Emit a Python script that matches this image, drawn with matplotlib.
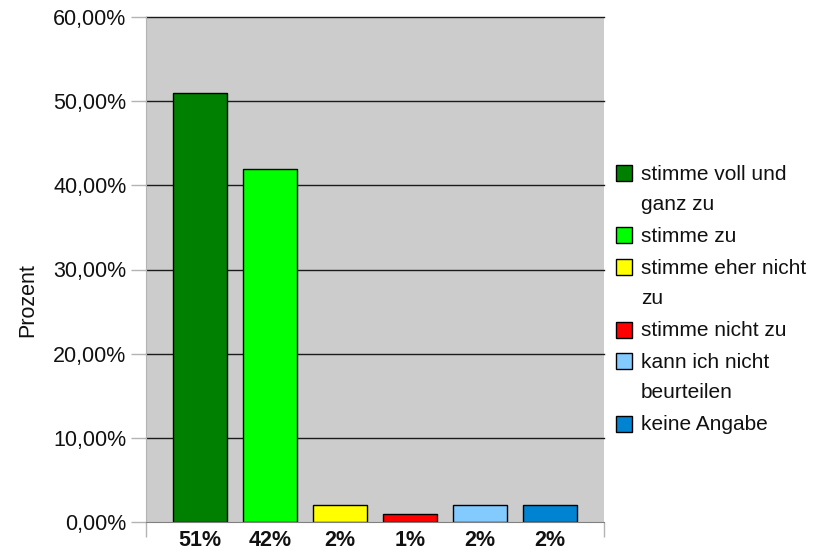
import matplotlib
matplotlib.use("Agg")
import matplotlib.pyplot as plt
from matplotlib.patches import Rectangle

plt.rcParams['font.family'] = ['Liberation Sans', 'DejaVu Sans']

# data
categories = ["stimme voll und\nganz zu", "stimme zu", "stimme eher nicht\nzu",
              "stimme nicht zu", "kann ich nicht\nbeurteilen", "keine Angabe"]
werte = [51, 42, 2, 1, 2, 2]
tick_labels = ["51%", "42%", "2%", "1%", "2%", "2%"]
farben = ["#008000", "#00ff00", "#ffff00", "#ff0000", "#83caff", "#0084d1"]
y_ticks = [0, 10, 20, 30, 40, 50, 60]

W, H = 814, 554
fig = plt.figure(figsize=(W / 100, H / 100), dpi=100)
ax = fig.add_axes([146 / W, 1 - 522 / H, (604 - 146) / W, (522 - 17) / H])
ax.set_facecolor("#cccccc")

x = list(range(len(werte)))
ax.bar(x, werte, width=0.77, color=farben, edgecolor="black", linewidth=1, zorder=3)

ax.set_xlim(-0.77, len(werte) - 1 + 0.77)
ax.set_ylim(0, 60)

# y axis
ax.set_yticks(y_ticks)
ax.set_yticklabels(["%d,00%%" % v for v in y_ticks], fontsize=15.5, color="#111111")
ax.tick_params(axis="y", length=11, width=1, color="#b3b3b3", pad=3)
ax.set_ylabel("Prozent", fontsize=15.5, color="#111111")
ax.yaxis.set_label_coords(-0.236, 0.44)

# grid
ax.grid(axis="y", color="#1a1a1a", linewidth=1, zorder=1)
ax.set_axisbelow(True)
ax.yaxis.get_gridlines()[0].set_visible(False)
for gl in ax.yaxis.get_gridlines():
    gl.set_clip_on(False)

# x axis
ax.set_xticks(x)
ax.set_xticklabels(tick_labels, fontsize=15.5, fontweight="bold", color="#111111")
ax.tick_params(axis="x", length=0, pad=6)
ax.set_xticks([-0.77, len(werte) - 1 + 0.77], minor=True)
ax.tick_params(axis="x", which="minor", length=11, width=1, color="#b3b3b3")

for s in ["top", "right"]:
    ax.spines[s].set_visible(False)
ax.spines["left"].set_color("#b3b3b3")
ax.spines["bottom"].set_color("#808080")
ax.spines["bottom"].set_zorder(4)

# legend (handle next to the first line of each entry)
zeile = 30.7
y_pos = 165
for label, farbe in zip(categories, farben):
    fig.add_artist(Rectangle((616 / W, 1 - (y_pos + 16) / H), 16 / W, 16 / H,
                             facecolor=farbe, edgecolor="black", linewidth=1,
                             transform=fig.transFigure))
    for i, teil in enumerate(label.split("\n")):
        fig.text(641 / W, 1 - (y_pos + 9 + i * zeile) / H, teil, fontsize=15,
                 va="center", ha="left", color="#111111")
    y_pos += zeile * len(label.split("\n")) + 1

fig.savefig("out.png", dpi=100)
